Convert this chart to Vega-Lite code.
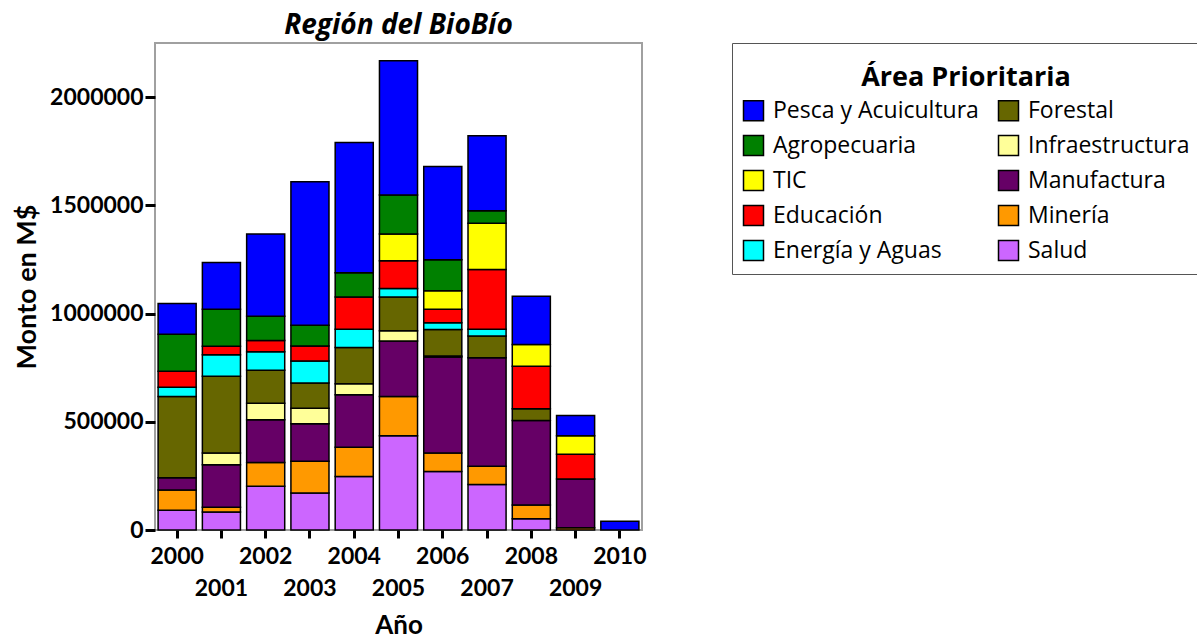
{
  "$schema": "https://vega.github.io/schema/vega-lite/v6.json",
  "autosize": "none",
  "padding": {"left": 155, "top": 43, "right": 555, "bottom": 113},
  "width": 487,
  "height": 487,
  "background": "white",
  "config": {
    "font": "Lato",
    "view": {"stroke": "#a0a0a0", "strokeWidth": 2}
  },
  "title": {
    "text": "Región del BioBío",
    "font": "Open Sans",
    "fontSize": 28,
    "fontWeight": "bold",
    "fontStyle": "italic",
    "color": "black",
    "anchor": "middle",
    "offset": 3
  },
  "data": {
    "values": [
      {"anio": 2000, "area": "Salud", "monto": 91000},
      {"anio": 2000, "area": "Minería", "monto": 94000},
      {"anio": 2000, "area": "Manufactura", "monto": 56000},
      {"anio": 2000, "area": "Forestal", "monto": 376000},
      {"anio": 2000, "area": "Energía y Aguas", "monto": 43000},
      {"anio": 2000, "area": "Educación", "monto": 73000},
      {"anio": 2000, "area": "Agropecuaria", "monto": 171000},
      {"anio": 2000, "area": "Pesca y Acuicultura", "monto": 142000},

      {"anio": 2001, "area": "Salud", "monto": 83000},
      {"anio": 2001, "area": "Minería", "monto": 22000},
      {"anio": 2001, "area": "Manufactura", "monto": 197000},
      {"anio": 2001, "area": "Infraestructura", "monto": 54000},
      {"anio": 2001, "area": "Forestal", "monto": 354000},
      {"anio": 2001, "area": "Energía y Aguas", "monto": 100000},
      {"anio": 2001, "area": "Educación", "monto": 39000},
      {"anio": 2001, "area": "Agropecuaria", "monto": 171000},
      {"anio": 2001, "area": "Pesca y Acuicultura", "monto": 216000},

      {"anio": 2002, "area": "Salud", "monto": 202000},
      {"anio": 2002, "area": "Minería", "monto": 110000},
      {"anio": 2002, "area": "Manufactura", "monto": 197000},
      {"anio": 2002, "area": "Infraestructura", "monto": 77000},
      {"anio": 2002, "area": "Forestal", "monto": 152000},
      {"anio": 2002, "area": "Energía y Aguas", "monto": 85000},
      {"anio": 2002, "area": "Educación", "monto": 53000},
      {"anio": 2002, "area": "Agropecuaria", "monto": 112000},
      {"anio": 2002, "area": "Pesca y Acuicultura", "monto": 379000},

      {"anio": 2003, "area": "Salud", "monto": 171000},
      {"anio": 2003, "area": "Minería", "monto": 147000},
      {"anio": 2003, "area": "Manufactura", "monto": 173000},
      {"anio": 2003, "area": "Infraestructura", "monto": 72000},
      {"anio": 2003, "area": "Forestal", "monto": 116000},
      {"anio": 2003, "area": "Energía y Aguas", "monto": 102000},
      {"anio": 2003, "area": "Educación", "monto": 69000},
      {"anio": 2003, "area": "Agropecuaria", "monto": 96000},
      {"anio": 2003, "area": "Pesca y Acuicultura", "monto": 663000},

      {"anio": 2004, "area": "Salud", "monto": 247000},
      {"anio": 2004, "area": "Minería", "monto": 135000},
      {"anio": 2004, "area": "Manufactura", "monto": 243000},
      {"anio": 2004, "area": "Infraestructura", "monto": 51000},
      {"anio": 2004, "area": "Forestal", "monto": 167000},
      {"anio": 2004, "area": "Energía y Aguas", "monto": 84000},
      {"anio": 2004, "area": "Educación", "monto": 150000},
      {"anio": 2004, "area": "Agropecuaria", "monto": 111000},
      {"anio": 2004, "area": "Pesca y Acuicultura", "monto": 602000},

      {"anio": 2005, "area": "Salud", "monto": 435000},
      {"anio": 2005, "area": "Minería", "monto": 182000},
      {"anio": 2005, "area": "Manufactura", "monto": 256000},
      {"anio": 2005, "area": "Infraestructura", "monto": 47000},
      {"anio": 2005, "area": "Forestal", "monto": 157000},
      {"anio": 2005, "area": "Energía y Aguas", "monto": 39000},
      {"anio": 2005, "area": "Educación", "monto": 128000},
      {"anio": 2005, "area": "TIC", "monto": 123000},
      {"anio": 2005, "area": "Agropecuaria", "monto": 181000},
      {"anio": 2005, "area": "Pesca y Acuicultura", "monto": 620000},

      {"anio": 2006, "area": "Salud", "monto": 270000},
      {"anio": 2006, "area": "Minería", "monto": 86000},
      {"anio": 2006, "area": "Manufactura", "monto": 443000},
      {"anio": 2006, "area": "Infraestructura", "monto": 5000},
      {"anio": 2006, "area": "Forestal", "monto": 122000},
      {"anio": 2006, "area": "Energía y Aguas", "monto": 31000},
      {"anio": 2006, "area": "Educación", "monto": 63000},
      {"anio": 2006, "area": "TIC", "monto": 85000},
      {"anio": 2006, "area": "Agropecuaria", "monto": 144000},
      {"anio": 2006, "area": "Pesca y Acuicultura", "monto": 430000},

      {"anio": 2007, "area": "Salud", "monto": 210000},
      {"anio": 2007, "area": "Minería", "monto": 84000},
      {"anio": 2007, "area": "Manufactura", "monto": 502000},
      {"anio": 2007, "area": "Forestal", "monto": 100000},
      {"anio": 2007, "area": "Energía y Aguas", "monto": 31000},
      {"anio": 2007, "area": "Educación", "monto": 277000},
      {"anio": 2007, "area": "TIC", "monto": 213000},
      {"anio": 2007, "area": "Agropecuaria", "monto": 58000},
      {"anio": 2007, "area": "Pesca y Acuicultura", "monto": 346000},

      {"anio": 2008, "area": "Salud", "monto": 52000},
      {"anio": 2008, "area": "Minería", "monto": 64000},
      {"anio": 2008, "area": "Manufactura", "monto": 390000},
      {"anio": 2008, "area": "Forestal", "monto": 54000},
      {"anio": 2008, "area": "Educación", "monto": 197000},
      {"anio": 2008, "area": "TIC", "monto": 100000},
      {"anio": 2008, "area": "Pesca y Acuicultura", "monto": 223000},

      {"anio": 2009, "area": "Minería", "monto": 10000},
      {"anio": 2009, "area": "Manufactura", "monto": 226000},
      {"anio": 2009, "area": "Educación", "monto": 114000},
      {"anio": 2009, "area": "TIC", "monto": 85000},
      {"anio": 2009, "area": "Pesca y Acuicultura", "monto": 94000},

      {"anio": 2010, "area": "Pesca y Acuicultura", "monto": 40000}
    ]
  },
  "transform": [
    {"calculate": "indexof(['Salud','Minería','Manufactura','Infraestructura','Forestal','Energía y Aguas','Educación','TIC','Agropecuaria','Pesca y Acuicultura'], datum.area)", "as": "orden"}
  ],
  "mark": {"type": "bar", "stroke": "black", "strokeWidth": 1.5},
  "encoding": {
    "x": {
      "field": "anio",
      "type": "ordinal",
      "scale": {"paddingInner": 0.14, "paddingOuter": 0.07},
      "axis": {
        "title": "Año",
        "titleFont": "Lato",
        "titleFontSize": 26,
        "titleFontWeight": "bold",
        "titleColor": "black",
        "titlePadding": 12,
        "labelAngle": 0,
        "labelFont": "Lato",
        "labelFontSize": 23,
        "labelFontWeight": "bold",
        "labelColor": "black",
        "labelPadding": 7,
        "labelLineHeight": 32,
        "labelBaseline": "top",
        "labelOverlap": false,
        "labelExpr": "datum.value % 2 == 0 ? datum.label : ['', datum.label]",
        "domain": false,
        "ticks": true,
        "tickColor": "black",
        "tickWidth": 3,
        "tickSize": 8,
        "grid": false
      }
    },
    "y": {
      "field": "monto",
      "type": "quantitative",
      "stack": "zero",
      "scale": {"domain": [0, 2250000], "nice": false},
      "axis": {
        "title": "Monto en M$",
        "titleFont": "Lato",
        "titleFontSize": 27,
        "titleFontWeight": "bold",
        "titleColor": "black",
        "titlePadding": 8,
        "values": [0, 500000, 1000000, 1500000, 2000000],
        "format": "d",
        "labelFont": "Lato",
        "labelFontSize": 23,
        "labelFontWeight": "bold",
        "labelColor": "black",
        "labelPadding": 2,
        "domain": false,
        "ticks": true,
        "tickColor": "black",
        "tickWidth": 3,
        "tickSize": 10,
        "grid": false
      }
    },
    "color": {
      "field": "area",
      "type": "nominal",
      "scale": {
        "domain": ["Pesca y Acuicultura", "Agropecuaria", "TIC", "Educación", "Energía y Aguas", "Forestal", "Infraestructura", "Manufactura", "Minería", "Salud"],
        "range": ["#0000FF", "#008000", "#FFFF00", "#FF0000", "#00FFFF", "#666600", "#FFFF99", "#660066", "#FF9900", "#CC66FF"]
      },
      "legend": {
        "title": ["", "Área Prioritaria"],
        "orient": "none",
        "legendX": 577,
        "legendY": 0,
        "columns": 2,
        "columnPadding": 16,
        "rowPadding": 8,
        "padding": 10,
        "fillColor": "white",
        "strokeColor": "#555555",
        "titleAnchor": "middle",
        "titleFont": "Open Sans",
        "titleFontSize": 27,
        "titleFontWeight": "bold",
        "titleColor": "black",
        "titleLineHeight": 12,
        "titlePadding": 7,
        "titleLimit": 500,
        "labelFont": "Open Sans",
        "labelFontSize": 23,
        "labelColor": "black",
        "labelOffset": 8,
        "labelLimit": 300,
        "symbolType": "square",
        "symbolSize": 400,
        "symbolStrokeColor": "black",
        "symbolStrokeWidth": 1.5,
        "symbolOpacity": 1
      }
    },
    "order": {"field": "orden", "type": "quantitative", "sort": "ascending"}
  }
}
